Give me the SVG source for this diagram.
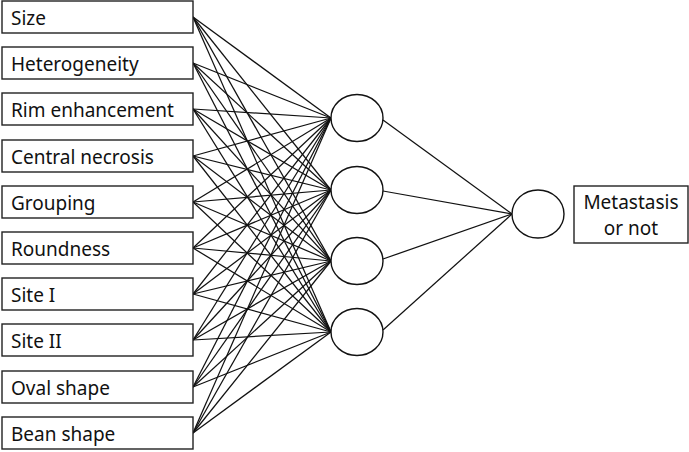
<svg xmlns="http://www.w3.org/2000/svg" width="689" height="452" viewBox="0 0 689 452">
<style>
.box{fill:#fff;stroke:#222;stroke-width:1.4}
.node{fill:#fff;stroke:#111;stroke-width:1.4}
.lbl{font-family:"Noto Sans","DejaVu Sans",sans-serif;font-size:19px;fill:#111}
.c line{stroke:#111;stroke-width:1.25}
</style>
<rect width="689" height="452" fill="#fff"/>
<g class="c" id="connectors">
<g id="from-in">
<line x1="193" y1="17" x2="331" y2="118"/><line x1="193" y1="17" x2="331" y2="190"/><line x1="193" y1="17" x2="331" y2="261"/><line x1="193" y1="17" x2="331" y2="332"/>
<line x1="193" y1="63" x2="331" y2="118"/><line x1="193" y1="63" x2="331" y2="190"/><line x1="193" y1="63" x2="331" y2="261"/><line x1="193" y1="63" x2="331" y2="332"/>
<line x1="193" y1="109" x2="331" y2="118"/><line x1="193" y1="109" x2="331" y2="190"/><line x1="193" y1="109" x2="331" y2="261"/><line x1="193" y1="109" x2="331" y2="332"/>
<line x1="193" y1="156" x2="331" y2="118"/><line x1="193" y1="156" x2="331" y2="190"/><line x1="193" y1="156" x2="331" y2="261"/><line x1="193" y1="156" x2="331" y2="332"/>
<line x1="193" y1="202" x2="331" y2="118"/><line x1="193" y1="202" x2="331" y2="190"/><line x1="193" y1="202" x2="331" y2="261"/><line x1="193" y1="202" x2="331" y2="332"/>
<line x1="193" y1="248" x2="331" y2="118"/><line x1="193" y1="248" x2="331" y2="190"/><line x1="193" y1="248" x2="331" y2="261"/><line x1="193" y1="248" x2="331" y2="332"/>
<line x1="193" y1="294" x2="331" y2="118"/><line x1="193" y1="294" x2="331" y2="190"/><line x1="193" y1="294" x2="331" y2="261"/><line x1="193" y1="294" x2="331" y2="332"/>
<line x1="193" y1="340" x2="331" y2="118"/><line x1="193" y1="340" x2="331" y2="190"/><line x1="193" y1="340" x2="331" y2="261"/><line x1="193" y1="340" x2="331" y2="332"/>
<line x1="193" y1="387" x2="331" y2="118"/><line x1="193" y1="387" x2="331" y2="190"/><line x1="193" y1="387" x2="331" y2="261"/><line x1="193" y1="387" x2="331" y2="332"/>
<line x1="193" y1="433" x2="331" y2="118"/><line x1="193" y1="433" x2="331" y2="190"/><line x1="193" y1="433" x2="331" y2="261"/><line x1="193" y1="433" x2="331" y2="332"/>
</g>
<g id="from-hidden">
<line x1="383" y1="120" x2="512" y2="214"/><line x1="383" y1="191" x2="512" y2="214"/><line x1="383" y1="259" x2="512" y2="214"/><line x1="383" y1="330" x2="512" y2="214"/>
</g>
</g>
<g id="in1"><rect class="box" x="2" y="1" width="191" height="32"/><text class="lbl" x="11" y="25">Size</text></g>
<g id="in2"><rect class="box" x="2" y="47" width="191" height="32"/><text class="lbl" x="11" y="71">Heterogeneity</text></g>
<g id="in3"><rect class="box" x="2" y="93" width="191" height="32"/><text class="lbl" x="11" y="117">Rim enhancement</text></g>
<g id="in4"><rect class="box" x="2" y="140" width="191" height="32"/><text class="lbl" x="11" y="164">Central necrosis</text></g>
<g id="in5"><rect class="box" x="2" y="186" width="191" height="32"/><text class="lbl" x="11" y="210">Grouping</text></g>
<g id="in6"><rect class="box" x="2" y="232" width="191" height="32"/><text class="lbl" x="11" y="256">Roundness</text></g>
<g id="in7"><rect class="box" x="2" y="278" width="191" height="32"/><text class="lbl" x="11" y="302">Site I</text></g>
<g id="in8"><rect class="box" x="2" y="324" width="191" height="32"/><text class="lbl" x="11" y="348">Site II</text></g>
<g id="in9"><rect class="box" x="2" y="371" width="191" height="32"/><text class="lbl" x="11" y="395">Oval shape</text></g>
<g id="in10"><rect class="box" x="2" y="417" width="191" height="32"/><text class="lbl" x="11" y="441">Bean shape</text></g>
<g id="h1"><ellipse class="node" cx="357" cy="118" rx="26" ry="23.5"/></g>
<g id="h2"><ellipse class="node" cx="357" cy="190" rx="26" ry="23.5"/></g>
<g id="h3"><ellipse class="node" cx="357" cy="261" rx="26" ry="23.5"/></g>
<g id="h4"><ellipse class="node" cx="357" cy="332" rx="26" ry="23.5"/></g>
<g id="out"><ellipse class="node" cx="538" cy="214" rx="26" ry="24"/></g>
<g id="result"><rect class="box" x="574" y="186" width="114" height="57"/>
<text class="lbl" x="631" y="208.5" text-anchor="middle">Metastasis</text>
<text class="lbl" x="631" y="235" text-anchor="middle">or not</text></g>
</svg>
